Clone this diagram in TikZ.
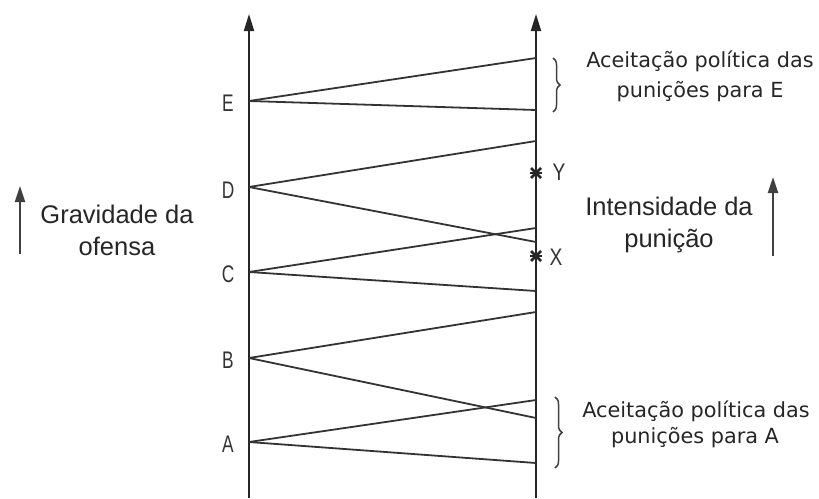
\documentclass[tikz,border=0pt]{standalone}
\usepackage{fontspec}
\setmainfont{Liberation Sans}
\newfontfamily\notefont{DejaVu Sans}
\usepackage{graphicx}
\usetikzlibrary{arrows.meta,decorations.pathreplacing}
\begin{document}
\begin{tikzpicture}[x=1pt,y=-1pt,
  axis/.style={line width=2pt,draw=black!85,-{Triangle[length=17pt,width=10pt]}},
  conn/.style={line width=1.8pt,draw=black!80},
  letter/.style={inner sep=0pt,text=black!80,font=\fontsize{24}{24}\selectfont},
  bigtext/.style={inner sep=0pt,anchor=base,text=black!85,font=\fontsize{25.5}{25.5}\selectfont},
  notetext/.style={inner sep=0pt,anchor=base,text=black!85,font=\notefont\fontsize{20.8}{20.8}\selectfont},
  starline/.style={line width=2.6pt,draw=black!85},
  bracket/.style={line width=1.5pt,draw=black!75,decorate,decoration={brace,amplitude=7pt}},
  sidearrow/.style={line width=2.2pt,draw=black!75,-{Triangle[length=16pt,width=10pt]}}
]
\useasboundingbox (0,0) rectangle (819,498);
% axes
\coordinate (Lbot) at (249,498);
\coordinate (Ltop) at (249,14);
\coordinate (Rbot) at (536,498);
\coordinate (Rtop) at (536,14);
\draw[axis] (Lbot) -- (Ltop);
\draw[axis] (Rbot) -- (Rtop);
% points on left axis
\coordinate (E) at (249,101);
\coordinate (D) at (249,187);
\coordinate (C) at (249,272);
\coordinate (B) at (249,358);
\coordinate (A) at (249,442);
% points on right axis
\coordinate (Et) at (536,58);
\coordinate (Eb) at (536,110);
\coordinate (Dt) at (536,141);
\coordinate (Db) at (536,242);
\coordinate (Ct) at (536,228);
\coordinate (Cb) at (536,291);
\coordinate (Bt) at (536,312);
\coordinate (Bb) at (536,418);
\coordinate (At) at (536,400);
\coordinate (Ab) at (536,463);
\draw[conn] (E) -- (Et); \draw[conn] (E) -- (Eb);
\draw[conn] (D) -- (Dt); \draw[conn] (D) -- (Db);
\draw[conn] (C) -- (Ct); \draw[conn] (C) -- (Cb);
\draw[conn] (B) -- (Bt); \draw[conn] (B) -- (Bb);
\draw[conn] (A) -- (At); \draw[conn] (A) -- (Ab);
% letters
\node[letter] (lE) at (228,103) {\scalebox{0.72}[1]{E}};
\node[letter] (lD) at (228,190) {\scalebox{0.72}[1]{D}};
\node[letter] (lC) at (228,274) {\scalebox{0.72}[1]{C}};
\node[letter] (lB) at (228,360) {\scalebox{0.72}[1]{B}};
\node[letter] (lA) at (228,444) {\scalebox{0.72}[1]{A}};
% marks Y and X
\coordinate (Y) at (536,173);
\coordinate (X) at (536,256);
\foreach \p in {Y,X}{
  \draw[starline] ([xshift=-6pt]\p) -- ([xshift=6pt]\p);
  \draw[starline] ([xshift=-5pt,yshift=-5pt]\p) -- ([xshift=5pt,yshift=5pt]\p);
  \draw[starline] ([xshift=-5pt,yshift=5pt]\p) -- ([xshift=5pt,yshift=-5pt]\p);
  \draw[starline] ([yshift=-8pt]\p) -- ([yshift=8pt]\p);
}
\node[letter] (lY) at (559,172) {\scalebox{0.8}[1]{Y}};
\node[letter] (lX) at (556,257) {\scalebox{0.8}[1]{X}};
% braces
\coordinate (bE1) at (553,58);
\coordinate (bE2) at (553,112);
\coordinate (bA1) at (555,397);
\coordinate (bA2) at (555,468);
\draw[bracket] (bE1) -- (bE2);
\draw[bracket] (bA1) -- (bA2);
% notes
\node[notetext] (nE1) at (700,67) {Aceitação política das};
\node[notetext] (nE2) at (700,97) {punições para E};
\node[notetext] (nA1) at (696,417) {Aceitação política das};
\node[notetext] (nA2) at (695,443) {punições para A};
% big labels
\node[bigtext] (g1) at (117,223) {Gravidade da};
\node[bigtext] (g2) at (117,255) {ofensa};
\node[bigtext] (i1) at (669,215) {Intensidade da};
\node[bigtext] (i2) at (669,247) {punição};
% side arrows
\coordinate (sa1) at (20,254);
\coordinate (sa2) at (20,186);
\coordinate (sb1) at (773,256);
\coordinate (sb2) at (773,177);
\draw[sidearrow] (sa1) -- (sa2);
\draw[sidearrow] (sb1) -- (sb2);
\end{tikzpicture}
\end{document}
